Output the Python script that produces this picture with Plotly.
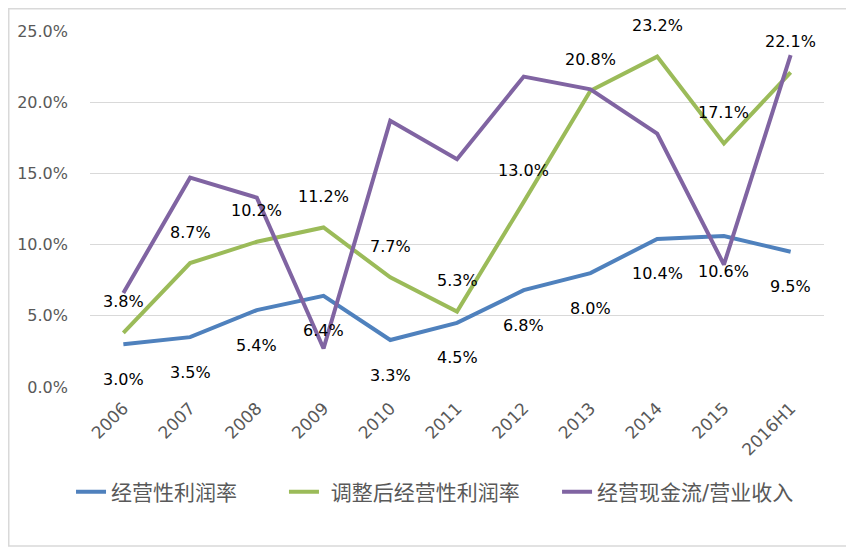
import plotly.graph_objects as go

categories = ["2006", "2007", "2008", "2009", "2010", "2011", "2012", "2013", "2014", "2015", "2016H1"]
op_margin = [3.0, 3.5, 5.4, 6.4, 3.3, 4.5, 6.8, 8.0, 10.4, 10.6, 9.5]
adj_margin = [3.8, 8.7, 10.2, 11.2, 7.7, 5.3, 13.0, 20.8, 23.2, 17.1, 22.1]
cash_ratio = [6.6, 14.7, 13.3, 2.7, 18.7, 16.0, 21.8, 20.9, 17.8, 8.6, 23.3]

names = ["经营性利润率", " 调整后经营性利润率", "经营现金流/营业收入"]
colors = ["#4F81BD", "#9BBB59", "#8064A2"]
legend_ids = ["legend", "legend2", "legend3"]
legend_x = [0.0745, 0.3262, 0.649]

FONT = "DejaVu Sans, Noto Sans CJK SC, sans-serif"

xpos = list(range(len(categories)))

fig = go.Figure()
for name, vals, col, lid in zip(names, [op_margin, adj_margin, cash_ratio], colors, legend_ids):
    fig.add_trace(go.Scatter(x=xpos, y=vals, mode="lines", name=name, legend=lid,
                             line=dict(color=col, width=4), hoverinfo="skip"))

annotations = []
for i, v in zip(xpos, op_margin):
    annotations.append(dict(x=i, y=v, xref="x", yref="y", text=f"{v:.1f}%", showarrow=False,
                            yshift=-35, font=dict(size=16, color="#000000", family=FONT)))
for i, v in zip(xpos, adj_margin):
    annotations.append(dict(x=i, y=v, xref="x", yref="y", text=f"{v:.1f}%", showarrow=False,
                            yshift=31, font=dict(size=16, color="#000000", family=FONT)))

legend_common = dict(orientation="h", xref="container", yref="container", y=0.1087,
                     xanchor="left", yanchor="middle",
                     font=dict(size=21, color="#595959", family=FONT), bgcolor="rgba(0,0,0,0)")

# page body has an 8px margin, so the figure is sized/offset to compensate
fig.update_layout(
    width=846, height=543,
    margin=dict(l=82, r=30, t=23, b=164, autoexpand=False),
    paper_bgcolor="white", plot_bgcolor="white",
    font=dict(family=FONT, color="#595959"),
    showlegend=True,
    legend=dict(x=legend_x[0], **legend_common),
    legend2=dict(x=legend_x[1], **legend_common),
    legend3=dict(x=legend_x[2], **legend_common),
    annotations=annotations,
    shapes=[dict(type="rect", xref="paper", yref="paper", x0=-0.1107, x1=1.034,
                 y0=-0.4466, y1=1.0625, line=dict(color="#D9D9D9", width=1.5), layer="below")],
)
fig.update_xaxes(range=[-0.5, len(categories) - 0.5], tickvals=xpos, ticktext=categories,
                 showgrid=False, showline=False, zeroline=False, automargin=False,
                 tickangle=-45, tickfont=dict(size=17, color="#595959", family=FONT),
                 ticks="", ticklabelstandoff=7)
fig.update_yaxes(range=[0, 25], dtick=5, tickformat=".1f", ticksuffix="%",
                 showgrid=True, gridcolor="#D9D9D9", gridwidth=1.3, zeroline=False,
                 showline=False, automargin=False,
                 tickfont=dict(size=16, color="#595959", family=FONT),
                 ticklabelstandoff=21)

fig.write_html("out.html")
